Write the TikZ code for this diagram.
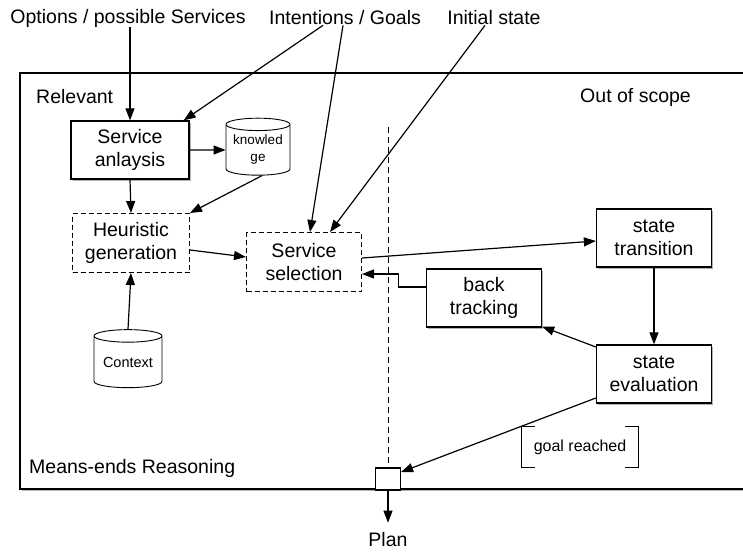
\documentclass[tikz,border=0pt]{standalone}
\usepackage{fontspec}
\setmainfont{Liberation Sans}
\usetikzlibrary{arrows.meta,shapes.geometric,shadows,calc}
\begin{document}
\begin{tikzpicture}[x=1pt,y=-1pt,
  every node/.style={font=\fontsize{19.5}{22}\selectfont, align=center, inner sep=0pt},
  myshadow/.style={drop shadow={shadow xshift=1.8pt,shadow yshift=-1.8pt,opacity=0.5,fill=black!60}},
  box/.style={draw, line width=1.3pt, fill=white, minimum width=118pt, minimum height=58pt, myshadow, font=\fontsize{19.5}{23}\selectfont},
  dbox/.style={draw, line width=1pt, dash pattern=on 5pt off 3pt, fill=white, minimum width=117pt, minimum height=59pt, font=\fontsize{19.5}{23}\selectfont},
  db/.style={cylinder, shape border rotate=90, draw, line width=0.9pt, fill=white, aspect=0.25, font=\fontsize{13.5}{17}\selectfont},
  arr/.style={-{Triangle[length=12pt,width=9pt]}, line width=1.2pt},
  ln/.style={line width=0.9pt},
]
\useasboundingbox (0,0) rectangle (743,552);
% outer frame
\draw[line width=1.3pt, fill=white, myshadow] (20,73) rectangle (748,489);
\node[anchor=west] (rel) at (36,97) {Relevant};
\node[anchor=east] (oos) at (691,97) {Out of scope};
\node[anchor=west] (mer) at (29,468) {Means-ends Reasoning};

% top labels
\node (opt) at (128,18) {Options / possible Services};
\node (int) at (345,18) {Intentions / Goals};
\node (ini) at (494,18) {Initial state};

% nodes
\node[box] (sa) at (130,150) {Service\\anlaysis};
\node[db, minimum width=64pt, minimum height=57pt] (kn) at (258,150) {knowled\\ge};
\node[dbox] (hg) at (131,243) {Heuristic\\generation};
\node[dbox, minimum width=115pt] (ss) at (304,262) {Service\\selection};
\node[box, minimum width=115pt] (st) at (654,238) {state\\transition};
\node[box, minimum width=115pt] (bt) at (484,298) {back\\tracking};
\node[box, minimum width=115pt] (se) at (654,374) {state\\evaluation};
\node[db, minimum width=68pt, minimum height=58pt, font=\fontsize{14.5}{17}\selectfont] (ctx) at (128,362) {Context};
\node[draw, line width=1.1pt, fill=white, minimum width=25pt, minimum height=22pt] (sq) at (388,479) {};
\node (plan) at (388,540) {Plan};
\node[font=\fontsize{16}{18}\selectfont, minimum width=116pt, minimum height=41pt] (gr) at (580,447) {goal reached};

% dashed separator
\draw[ln, dash pattern=on 6pt off 4pt] (388,127) -- (sq.north);

% goal reached brackets
\draw[ln] ([xshift=13pt]gr.north west) -- (gr.north west) -- (gr.south west) -- ++(13,0);
\draw[ln] ([xshift=-13pt]gr.north east) -- (gr.north east) -- (gr.south east) -- ++(-13,0);

% connectors
\draw[arr] ([xshift=2pt]opt.south) -- (sa.north);
\draw[arr] ([xshift=-22pt]int.south) -- ([xshift=-6pt]sa.north east);
\draw[arr] ([xshift=-2pt]int.south) -- ([xshift=6pt]ss.north);
\draw[arr] ([xshift=-9pt]ini.south) -- ([xshift=26pt]ss.north);
\draw[arr] (sa.east) -- (kn.west);
\draw[arr] (sa.south) -- (hg.north);
\draw[arr] ([xshift=4pt]kn.south) -- (hg.north east);
\draw[arr] (ctx.north) -- (hg.south);
\draw[arr] ([yshift=-7pt]hg.east) -- ([yshift=5pt]ss.west);
\draw[arr] ([yshift=4pt]ss.east) -- ([yshift=-3pt]st.west);
\draw[arr] ([yshift=11pt]bt.west) -- ++(-27,0) |- ([yshift=-12pt]ss.east);
\draw[arr] (st.south) -- (se.north);
\draw[arr] ([yshift=27pt]se.west) -- ([yshift=1pt]bt.south east);
\draw[arr] ([yshift=-24pt]se.west) -- ([yshift=7pt]sq.east);
\draw[arr] (sq.south) -- ([yshift=10pt]plan.north);
\end{tikzpicture}
\end{document}
